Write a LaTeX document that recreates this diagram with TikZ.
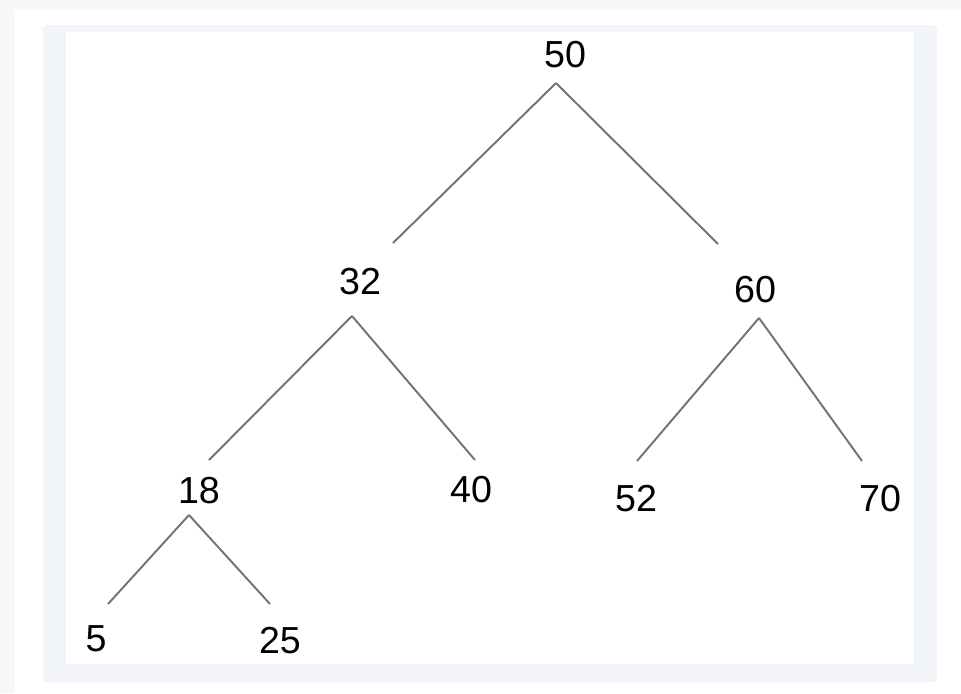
\documentclass[tikz,border=0pt]{standalone}
\usepackage{fontspec}
\setmainfont{Liberation Sans}
\definecolor{pagegray}{HTML}{F7F7F7}
\definecolor{framecol}{HTML}{F1F4F8}

\begin{document}
\begin{tikzpicture}[x=0.01cm, y=-0.01cm, main/.style = {inner sep=0pt, text=black, font=\fontsize{10.7}{12}\selectfont}, edge/.style = {draw=black!55, line width=0.55pt}]
            \useasboundingbox (0,0) rectangle (961,693);
            \fill[pagegray] (0,0) rectangle (961,693);
            \fill[white] (15,10) rectangle (961,693);
            \fill[framecol, rounded corners=1.2pt] (43,25) rectangle (937,682);
            \fill[white] (66,32) rectangle (914,664);

            \node[main] (50) at (565,55) {50};
            \node[main] (32) at (360,282) {32};
            \node[main] (60) at (755,290) {60};
            \node[main] (18) at (199,491) {18};
            \node[main] (40) at (471,490) {40};
            \node[main] (52) at (636,499) {52};
            \node[main] (70) at (880,499) {70};
            \node[main] (5) at (96,639) {5};
            \node[main] (25) at (280,641) {25};

            \coordinate (t50) at (556,83);
            \coordinate (t32) at (352,316);
            \coordinate (t60) at (759,318);
            \coordinate (t18) at (189,515);
            \coordinate (e32) at (393,243);
            \coordinate (e60) at (718,244);
            \coordinate (e18) at (209,460);
            \coordinate (e40) at (475,460);
            \coordinate (e52) at (637,461);
            \coordinate (e70) at (862,461);
            \coordinate (e5) at (108,604);
            \coordinate (e25) at (270,604);

            \draw[edge] (t50) -- (e32);
            \draw[edge] (t50) -- (e60);
            \draw[edge] (t32) -- (e18);
            \draw[edge] (t32) -- (e40);
            \draw[edge] (t60) -- (e52);
            \draw[edge] (t60) -- (e70);
            \draw[edge] (t18) -- (e5);
            \draw[edge] (t18) -- (e25);

        \end{tikzpicture}
\end{document}
